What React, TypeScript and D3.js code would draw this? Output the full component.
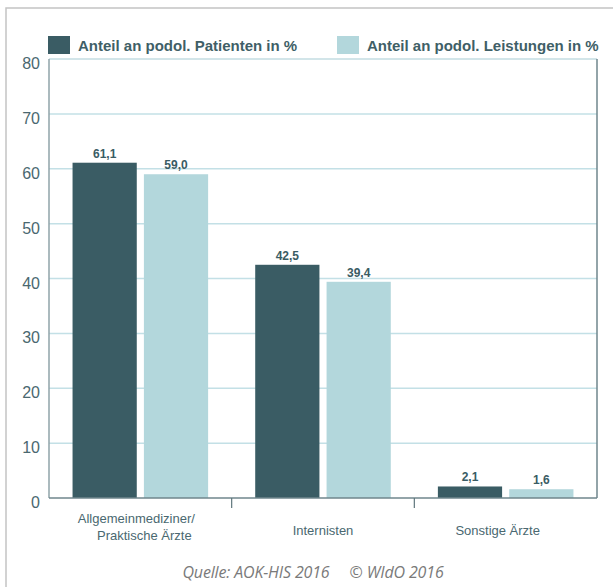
import * as React from "react";
import * as d3 from "d3";

const categories = ["Allgemeinmediziner/\nPraktische Ärzte", "Internisten", "Sonstige Ärzte"];
const seriesNames = ["Anteil an podol. Patienten in %", "Anteil an podol. Leistungen in %"];
const patienten = [61.1, 42.5, 2.1];
const leistungen = [59.0, 39.4, 1.6];
const yTicks = [0, 10, 20, 30, 40, 50, 60, 70, 80];
const sourceText = "Quelle: AOK-HIS 2016     © WIdO 2016";

const colors = ["#3a5c64", "#b3d7dc"];
const textColor = "#4a6870";

const App: React.FC = () => {
    const svgRef = React.useRef<SVGSVGElement | null>(null);

    React.useEffect(() => {
        if (!svgRef.current) return;
        const svg = d3.select(svgRef.current);
        svg.selectAll("*").remove();

        const W = 613, H = 587;
        const left = 49, right = 597, top = 59, bottom = 498;
        const font = "Liberation Sans, Arial, sans-serif";

        // outer frame (only left/top visible)
        svg.append("rect")
            .attr("x", 6).attr("y", 8)
            .attr("width", W + 50).attr("height", H + 50)
            .attr("fill", "#fff")
            .attr("stroke", "#c4c4c4")
            .attr("stroke-width", 1.5);

        const x0 = d3.scaleBand<number>()
            .domain(categories.map((_, i) => i))
            .range([left, right])
            .padding(0);

        const x1 = d3.scaleBand<number>()
            .domain([0, 1])
            .range([0, x0.bandwidth()])
            .paddingInner(0.1)
            .paddingOuter(0.33);

        const y = d3.scaleLinear().domain([0, 80]).range([bottom, top]);

        // gridlines
        svg.append("g")
            .selectAll("line")
            .data(yTicks.filter(t => t > 0 && t < 80))
            .enter().append("line")
            .attr("x1", left).attr("x2", right)
            .attr("y1", d => y(d)).attr("y2", d => y(d))
            .attr("stroke", "#c3e0e6")
            .attr("stroke-width", 1.5);

        // plot frame
        svg.append("line").attr("x1", left).attr("x2", right).attr("y1", top).attr("y2", top)
            .attr("stroke", "#c3dde2").attr("stroke-width", 1.5);
        svg.append("line").attr("x1", right).attr("x2", right).attr("y1", top).attr("y2", bottom)
            .attr("stroke", "#6f868c").attr("stroke-width", 1.5);
        svg.append("line").attr("x1", left).attr("x2", left).attr("y1", top).attr("y2", bottom)
            .attr("stroke", "#8fa3a8").attr("stroke-width", 1.5);

        // y tick labels
        svg.append("g")
            .selectAll("text")
            .data(yTicks)
            .enter().append("text")
            .attr("x", left - 9)
            .attr("y", d => y(d) + 10)
            .attr("text-anchor", "end")
            .attr("font-family", font)
            .attr("font-size", 16)
            .attr("fill", textColor)
            .text(d => String(d));

        // bars
        const rows = categories.map((c, i) => [patienten[i], leistungen[i]]);
        const groups = svg.append("g")
            .selectAll("g")
            .data(rows)
            .enter().append("g")
            .attr("transform", (_, i) => `translate(${x0(i)},0)`);

        groups.selectAll("rect")
            .data(d => d)
            .enter().append("rect")
            .attr("x", (_, j) => x1(j)!)
            .attr("y", d => y(d))
            .attr("width", x1.bandwidth())
            .attr("height", d => bottom - y(d))
            .attr("fill", (_, j) => colors[j]);

        groups.selectAll("text")
            .data(d => d)
            .enter().append("text")
            .attr("x", (_, j) => x1(j)! + x1.bandwidth() / 2)
            .attr("y", d => y(d) - 5)
            .attr("text-anchor", "middle")
            .attr("font-family", font)
            .attr("font-weight", "bold")
            .attr("font-size", 12)
            .attr("fill", "#3a5c64")
            .text(d => d.toFixed(1).replace(".", ","));

        // x axis
        svg.append("line").attr("x1", left).attr("x2", right).attr("y1", bottom).attr("y2", bottom)
            .attr("stroke", "#6f868c").attr("stroke-width", 1.5);
        svg.append("g")
            .selectAll("line")
            .data([1, 2])
            .enter().append("line")
            .attr("x1", d => x0(d)!).attr("x2", d => x0(d)!)
            .attr("y1", bottom).attr("y2", bottom + 10)
            .attr("stroke", "#5f767c").attr("stroke-width", 1.2);

        const labels = svg.append("g")
            .selectAll("text")
            .data(categories)
            .enter().append("text")
            .attr("font-family", font)
            .attr("font-size", 13)
            .attr("fill", textColor)
            .attr("text-anchor", "middle");
        labels.each(function (d, i) {
            const lines = d.split("\n");
            const cx = x0(i)! + x0.bandwidth() / 2;
            const t = d3.select(this);
            if (lines.length === 1) {
                t.append("tspan").attr("x", cx - (i === 2 ? 8 : 0)).attr("y", 535).text(lines[0]);
            } else {
                t.append("tspan").attr("x", cx - 4).attr("y", 523).text(lines[0]);
                t.append("tspan").attr("x", cx + 4).attr("y", 540).text(lines[1]);
            }
        });

        // legend
        const legendX = [48, 337];
        const legend = svg.append("g")
            .selectAll("g")
            .data(seriesNames)
            .enter().append("g")
            .attr("transform", (_, i) => `translate(${legendX[i]},36)`);
        legend.append("rect")
            .attr("width", 22).attr("height", 18)
            .attr("fill", (_, i) => colors[i]);
        legend.append("text")
            .attr("x", 30).attr("y", 15)
            .attr("font-family", font)
            .attr("font-weight", "bold")
            .attr("font-size", 15)
            .attr("fill", "#3f5f67")
            .text(d => d);

        // source
        svg.append("text")
            .attr("x", 313).attr("y", 578)
            .attr("text-anchor", "middle")
            .attr("font-family", "Open Sans, sans-serif")
            .attr("font-style", "italic")
            .attr("font-size", 16)
            .attr("letter-spacing", -0.15)
            .attr("fill", "#7a7a7a")
            .attr("xml:space", "preserve")
            .style("white-space", "pre")
            .text(sourceText);
    }, []);

    return (
        <svg
            ref={svgRef}
            width={613}
            height={587}
            style={{ position: "absolute", left: 0, top: 0, background: "#fff" }}
        />
    );
};

export default App;
